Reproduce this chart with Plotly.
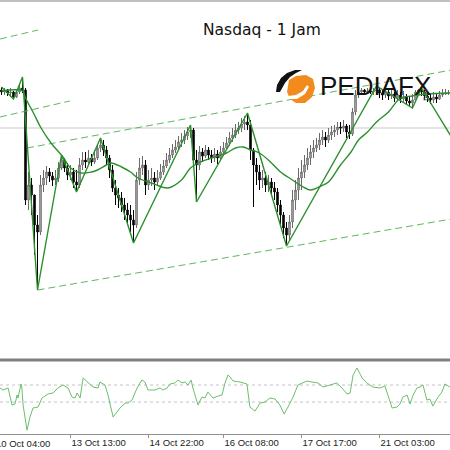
import plotly.graph_objects as go

WIDTH, HEIGHT = 450, 450
PLOT_H = 434  # plot area height in px; the bottom margin holds the time labels

# ---------------------------------------------------------------------------
# Data (H1 bars, index 0..149)
# ---------------------------------------------------------------------------
first_open = 25050
closes = [
    25040, 25050, 25035, 25040, 25015, 25040, 25060, 25050, 24500, 24575,
    24525, 24375, 24340, 24575, 24610, 24640, 24620, 24600, 24610, 24660,
    24700, 24660, 24625, 24640, 24590, 24575, 24675, 24700, 24690, 24710,
    24690, 24710, 24760, 24775, 24750, 24710, 24650, 24560, 24525, 24510,
    24475, 24450, 24425, 24400, 24375, 24600, 24660, 24675, 24575, 24600,
    24610, 24590, 24610, 24640, 24670, 24700, 24725, 24750, 24765, 24790,
    24800, 24820, 24840, 24850, 24700, 24675, 24740, 24720, 24750, 24725,
    24710, 24730, 24710, 24740, 24760, 24785, 24810, 24825, 24850, 24860,
    24880, 24890, 24875, 24750, 24675, 24640, 24600, 24610, 24575, 24590,
    24560, 24540, 24475, 24425, 24360, 24325, 24390, 24500, 24550, 24610,
    24640, 24675, 24710, 24740, 24760, 24775, 24800, 24815, 24800, 24825,
    24840, 24850, 24865, 24860, 24870, 24840, 24830, 24940, 25025, 25040,
    25050, 25040, 25045, 25040, 25045, 25050, 25035, 25025, 25040, 25020,
    25030, 25010, 25025, 25005, 25015, 24995, 24985, 25000, 25040, 25050,
    25040, 25020, 25010, 25000, 25015, 25005, 25025, 25030, 25035, 25035,
]
highs = [
    25065, 25060, 25055, 25060, 25045, 25055, 25080, 25115, 25060, 24640,
    24610, 24525, 24425, 24625, 24650, 24670, 24660, 24640, 24650, 24690,
    24725, 24710, 24685, 24675, 24660, 24650, 24710, 24740, 24740, 24750,
    24730, 24750, 24780, 24810, 24800, 24770, 24725, 24675, 24600, 24560,
    24540, 24510, 24485, 24475, 24450, 24640, 24710, 24720, 24700, 24650,
    24660, 24640, 24650, 24680, 24700, 24735, 24760, 24780, 24800, 24820,
    24835, 24850, 24865, 24875, 24860, 24750, 24770, 24760, 24775, 24765,
    24750, 24760, 24750, 24770, 24790, 24815, 24840, 24860, 24880, 24890,
    24910, 24920, 24935, 24900, 24760, 24710, 24675, 24650, 24640, 24625,
    24610, 24590, 24560, 24500, 24440, 24390, 24425, 24550, 24600, 24660,
    24700, 24725, 24760, 24775, 24800, 24810, 24835, 24850, 24840, 24860,
    24870, 24875, 24890, 24890, 24900, 24880, 24875, 24960, 25050, 25055,
    25060, 25055, 25060, 25055, 25060, 25070, 25060, 25050, 25060, 25050,
    25055, 25040, 25050, 25040, 25045, 25030, 25020, 25030, 25050, 25055,
    25060, 25050, 25040, 25030, 25040, 25035, 25045, 25055, 25055, 25050,
]
lows = [
    25025, 25025, 25020, 25015, 25005, 25010, 25030, 25035, 24475, 24450,
    24425, 24225, 24050, 24325, 24540, 24575, 24590, 24570, 24575, 24590,
    24650, 24640, 24600, 24600, 24560, 24540, 24560, 24650, 24660, 24675,
    24670, 24680, 24700, 24740, 24720, 24675, 24610, 24540, 24475, 24460,
    24440, 24400, 24375, 24340, 24285, 24360, 24575, 24625, 24525, 24550,
    24570, 24550, 24570, 24600, 24625, 24660, 24685, 24710, 24735, 24750,
    24765, 24780, 24800, 24810, 24675, 24490, 24650, 24690, 24710, 24700,
    24685, 24690, 24680, 24700, 24720, 24750, 24770, 24790, 24810, 24830,
    24840, 24850, 24850, 24700, 24465, 24575, 24550, 24560, 24540, 24540,
    24525, 24500, 24440, 24375, 24310, 24270, 24300, 24360, 24450, 24500,
    24550, 24610, 24650, 24675, 24710, 24740, 24750, 24775, 24765, 24785,
    24800, 24815, 24825, 24830, 24840, 24810, 24805, 24820, 24925, 25010,
    25030, 25025, 25035, 25030, 25025, 25030, 25010, 25000, 25010, 25000,
    25005, 24990, 24995, 24985, 24990, 24975, 24970, 24960, 25000, 25025,
    25020, 25000, 24990, 24980, 24985, 24985, 25000, 25015, 25025, 25025,
]

zigzag_bars = [0, 4, 7, 12, 20, 25, 33, 44, 63, 65, 82, 95, 125, 137, 140, 152]
zigzag_prices = [25065, 25005, 25115, 24050, 24725, 24540, 24810, 24285,
                 24875, 24490, 24935, 24270, 25070, 24960, 25060, 24765]

ma_bars = [0, 7, 8, 11, 13, 16.5, 20.5, 23, 26.5, 30, 32, 35, 36.5, 40, 43,
           45.5, 50, 55.5, 60, 63, 65.5, 70, 75, 78, 80.5, 83, 86, 90, 93, 97,
           100, 103, 106.5, 109, 113, 116.5, 119, 122, 125, 129, 133, 137,
           141.5, 150]
ma_prices = [25045, 25045, 25010, 24925, 24865, 24785, 24715, 24660, 24635,
             24640, 24650, 24675, 24685, 24665, 24640, 24610, 24585, 24560,
             24600, 24660, 24685, 24710, 24735, 24760, 24765, 24750, 24735,
             24685, 24640, 24600, 24570, 24550, 24570, 24590, 24675, 24740,
             24800, 24840, 24890, 24940, 25010, 25020, 25030, 25035]

# dashed trend channels
upper_bars, upper_prices = [8.5, 150], [24760, 25150]
lower_bars, lower_prices = [12, 150], [24050, 24405]
old_top_bars, old_top_prices = [-0.5, 12.2], [25305, 25350]
old_mid_bars, old_mid_prices = [-0.5, 22.8], [24915, 24995]
level_price = 24860

osc_bars = [
    -0.5, 0.5, 2.2, 3.5, 4.5, 5.2, 5.5, 6.5, 6.8, 7.2,
    8.5, 9.5, 10.5, 12.2, 13.5, 15.5, 17.2, 18.8, 20.5, 22.2,
    23.5, 24.5, 25.2, 26.2, 27.2, 28.8, 30.5, 32.2, 32.8, 34.5,
    35.5, 37.2, 39.5, 41.2, 42.2, 43.5, 45.2, 46.8, 47.8, 48.8,
    51.2, 52.8, 53.8, 55.2, 56.2, 57.8, 58.8, 60.2, 61.2, 62.2,
    63.2, 63.8, 65.5, 66.8, 67.8, 68.8, 70.5, 72.2, 73.5, 74.5,
    75.5, 76.2, 77.2, 79.5, 81.8, 82.8, 84.5, 86.2, 87.8, 89.5,
    91.2, 92.8, 94.2, 95.5, 97.2, 98.8, 100.5, 101.8, 103.5, 105.5,
    107.2, 108.5, 110.2, 111.8, 113.5, 115.2, 116.2, 117.2, 118.5, 120.2,
    121.8, 123.8, 126.2, 127.8, 128.8, 130.2, 131.8, 132.8, 133.8, 135.2,
    136.2, 137.2, 138.5, 139.5, 140.5, 141.8, 142.8, 143.8, 145.5, 146.8,
    147.8, 149.5,
]
osc_values = [
    56.5, 54.1, 56.5, 36.4, 37.6, 48.2, 44.7, 61.2, 56.5, 36.4,
    6.9, 22.3, 32.9, 34.1, 44.7, 49.4, 50.6, 56.5, 60.0, 56.5,
    45.8, 44.7, 50.6, 44.7, 68.3, 63.5, 57.6, 56.5, 63.5, 60.0,
    48.2, 22.3, 32.9, 38.8, 38.8, 42.3, 56.5, 65.9, 63.5, 54.1,
    54.1, 56.5, 54.1, 56.5, 61.2, 62.4, 65.9, 62.4, 63.5, 60.0,
    65.9, 56.5, 36.4, 45.8, 44.7, 51.7, 44.7, 47.0, 48.2, 62.4,
    71.8, 69.4, 64.7, 63.5, 61.2, 34.1, 29.3, 38.8, 39.9, 44.7,
    43.5, 36.4, 25.8, 34.1, 45.8, 60.0, 62.4, 64.7, 63.5, 62.4,
    57.6, 58.8, 61.2, 62.4, 56.5, 49.4, 50.6, 71.8, 80.1, 68.3,
    62.4, 57.6, 56.5, 58.8, 48.2, 32.9, 34.1, 37.6, 45.8, 48.2,
    37.6, 48.2, 56.5, 57.6, 60.0, 42.3, 43.5, 35.2, 45.8, 51.7,
    61.2, 57.6,
]
osc_levels = [60, 40]

tick_bars = [23, 49, 74, 100, 126]
tick_text = ["13 Oct 13:00", "14 Oct 22:00", "16 Oct 08:00",
             "17 Oct 17:00", "21 Oct 03:00"]
first_label = "10 Oct 04:00"

ZZ_GREEN = "#2b8f2b"
DASH_GREEN = "#5fb85f"
OSC_GREEN = "#6cbf6c"
LABEL_FONT = dict(family="Liberation Sans, Arial, sans-serif", size=9.5, color="#222222")


def _px(x, y):
    """Pixel position in the 450x434 plot area -> paper coordinates."""
    return x / WIDTH, (PLOT_H - y) / PLOT_H


def _path(points):
    pts = [_px(x, y) for x, y in points]
    return "M " + " L ".join(f"{a:.4f},{b:.4f}" for a, b in pts) + " Z"


def _add_price(fig):
    opens = [first_open] + closes[:-1]
    fig.add_trace(go.Candlestick(
        x=list(range(len(closes))), open=opens, high=highs, low=lows, close=closes,
        increasing=dict(line=dict(color="#6a6a6a", width=1), fillcolor="#c0c0c0"),
        decreasing=dict(line=dict(color="#000000", width=1), fillcolor="#000000"),
        whiskerwidth=0, hoverinfo="skip", showlegend=False,
        xaxis="x", yaxis="y",
    ))
    for bx, py in [(upper_bars, upper_prices), (lower_bars, lower_prices),
                   (old_top_bars, old_top_prices), (old_mid_bars, old_mid_prices)]:
        fig.add_trace(go.Scatter(
            x=bx, y=py, mode="lines", showlegend=False, hoverinfo="skip",
            line=dict(color=DASH_GREEN, width=1, dash="7px,4px"),
            xaxis="x", yaxis="y",
        ))
    fig.add_trace(go.Scatter(
        x=ma_bars, y=ma_prices, mode="lines", line_shape="spline",
        line=dict(color=ZZ_GREEN, width=1.4), showlegend=False, hoverinfo="skip",
        xaxis="x", yaxis="y",
    ))
    fig.add_trace(go.Scatter(
        x=zigzag_bars, y=zigzag_prices, mode="lines",
        line=dict(color=ZZ_GREEN, width=1.4), showlegend=False, hoverinfo="skip",
        xaxis="x", yaxis="y",
    ))


def _add_oscillator(fig):
    fig.add_trace(go.Scatter(
        x=osc_bars, y=osc_values, mode="lines",
        line=dict(color=OSC_GREEN, width=1), showlegend=False, hoverinfo="skip",
        xaxis="x2", yaxis="y2",
    ))
    for lv in osc_levels:
        fig.add_shape(type="line", xref="paper", yref="y2", x0=0, x1=1, y0=lv, y1=lv,
                      line=dict(color="#c4c4c4", width=1, dash="dot"), layer="below")


def _add_decor(fig):
    # horizontal level, frame lines
    fig.add_shape(type="line", xref="paper", yref="y", x0=0, x1=1,
                  y0=level_price, y1=level_price,
                  line=dict(color="#c8c8c8", width=1), layer="below")
    _, top = _px(0, 1)
    _, sep = _px(0, 360)
    fig.add_shape(type="line", xref="paper", yref="paper", x0=0, x1=1, y0=top, y1=top,
                  line=dict(color="#808080", width=1))
    fig.add_shape(type="line", xref="paper", yref="paper", x0=0, x1=1, y0=sep, y1=sep,
                  line=dict(color="#808080", width=3))

    # title
    tx, ty = _px(262, 30)
    fig.add_annotation(text="Nasdaq - 1 Jam", xref="paper", yref="paper", x=tx, y=ty,
                       showarrow=False, xanchor="center", yanchor="middle",
                       font=dict(family="DejaVu Sans", size=15.5, color="#111111"))

    # PEDIAFX logo: orange badge with a black wing
    fig.add_shape(type="path", xref="paper", yref="paper", fillcolor="#f28a1e",
                  line=dict(width=0), path=_path([
                      (289, 80), (296, 76), (306, 75), (313, 79), (315, 88),
                      (312, 97), (305, 103), (296, 103), (290, 99), (287, 92)]))
    fig.add_shape(type="path", xref="paper", yref="paper", fillcolor="#ffffff",
                  line=dict(width=0), path=_path([
                      (288, 96), (296, 95), (303, 91), (307, 85), (309, 87),
                      (305, 94), (297, 99), (289, 99)]))
    fig.add_shape(type="path", xref="paper", yref="paper", fillcolor="#111111",
                  line=dict(width=0), path=_path([
                      (276, 92), (277, 85), (281, 78), (287, 73), (295, 70),
                      (302, 70), (296, 73), (290, 77), (285, 83), (280, 92)]))
    lx, ly = _px(318, 86)
    fig.add_annotation(text="PEDIAFX", xref="paper", yref="paper", x=lx, y=ly,
                       showarrow=False, xanchor="left", yanchor="middle",
                       font=dict(family="Liberation Sans", size=26, color="#111111"))
    cx, cy = _px(430, 85)
    fig.add_annotation(text=".COM", xref="paper", yref="paper", x=cx, y=cy,
                       showarrow=False, textangle=90,
                       font=dict(family="Liberation Sans", size=5, color="#555555"))

    # first time label, partly cut at the left edge as in the source screenshot
    fx, fy = _px(-6, 443)
    fig.add_annotation(text=first_label, xref="paper", yref="paper", x=fx, y=fy,
                       showarrow=False, xanchor="left", yanchor="middle", font=LABEL_FONT)


fig = go.Figure()
_add_price(fig)
_add_oscillator(fig)
_add_decor(fig)

x_range = [-0.5, 149.5]
fig.update_layout(
    width=WIDTH, height=HEIGHT,
    margin=dict(l=0, r=0, t=0, b=HEIGHT - PLOT_H),
    paper_bgcolor="white", plot_bgcolor="white",
    xaxis=dict(domain=[0, 1], range=x_range, anchor="y", visible=False,
               rangeslider=dict(visible=False)),
    yaxis=dict(domain=[(PLOT_H - 358) / PLOT_H, (PLOT_H - 2) / PLOT_H],
               range=[23710, 25490], visible=False),
    xaxis2=dict(domain=[0, 1], range=x_range, anchor="y2", matches="x",
                showgrid=False, zeroline=False, showline=True, linecolor="#909090",
                linewidth=1, ticks="outside", ticklen=3, tickcolor="#909090",
                tickvals=tick_bars, ticktext=tick_text,
                ticklabelposition="outside right", tickfont=LABEL_FONT),
    yaxis2=dict(domain=[0, (PLOT_H - 362) / PLOT_H], range=[2.35, 87.06],
                visible=False),
    showlegend=False,
)

# the page's default body margin would push the 450px figure off the window
fig.write_html("out.html", config={"displayModeBar": False},
               post_script="document.body.style.margin='0';")
